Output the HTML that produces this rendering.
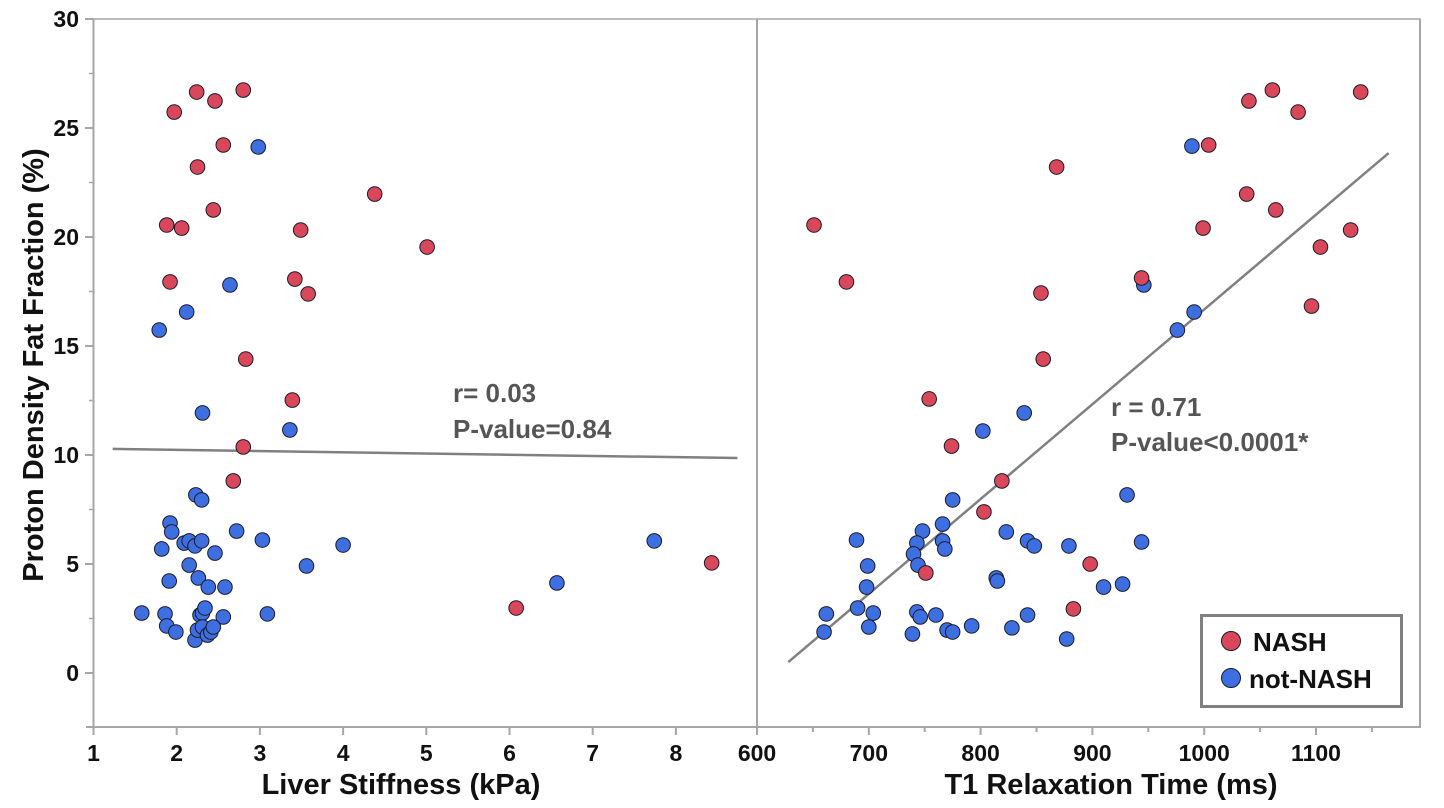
<!DOCTYPE html>
<html><head><meta charset="utf-8"><style>
html,body{margin:0;padding:0;background:#fff;}
svg{display:block;font-family:"Liberation Sans",sans-serif;}
</style></head><body>
<svg id="chart" width="1444" height="808"></svg>
<script>
// Left panel: Liver stiffness (kPa)
const leftNashX = [2.24,2.46,2.80,1.97,2.56,2.25,4.38,2.44,1.88,2.06,3.49,5.01,1.92,3.42,3.58,2.83,3.39,2.80,2.68,8.43,6.08];
const leftNashY = [26.65,26.24,26.74,25.73,24.22,23.21,21.97,21.24,20.55,20.41,20.32,19.54,17.94,18.07,17.39,14.40,12.52,10.37,8.81,5.05,2.98];
const leftNotX = [2.98,2.64,2.12,1.79,2.31,3.36,2.23,2.30,1.92,1.94,2.72,3.03,1.82,2.09,2.15,2.22,2.30,2.46,3.56,4.00,7.74,2.15,1.91,2.26,2.38,2.58,6.57,1.58,1.86,1.88,1.99,2.28,2.31,2.34,2.56,3.09,2.22,2.25,2.31,2.37,2.41,2.44];
const leftNotY = [24.13,17.80,16.56,15.73,11.93,11.15,8.17,7.94,6.88,6.47,6.51,6.10,5.69,5.96,6.06,5.83,6.06,5.50,4.91,5.87,6.06,4.95,4.22,4.36,3.94,3.94,4.13,2.75,2.71,2.16,1.88,2.66,2.75,2.98,2.57,2.71,1.51,1.97,2.11,1.74,1.88,2.11];
const leftFitX = [1.23,8.74];
const leftFitY = [10.28,9.86];
// Right panel: T1 relaxation time (ms)
const rightNashX = [1040,1061,1084,1140,1004,868,1038,1064,999,1131,1104,854,944,1096,856,651,680,754,774,819,803,751,898,883];
const rightNashY = [26.24,26.74,25.73,26.65,24.22,23.21,21.97,21.24,20.41,20.32,19.54,17.43,18.12,16.83,14.40,20.55,17.94,12.57,10.41,8.81,7.39,4.59,5.00,2.94];
const rightNotX = [989,946,991,976,839,802,931,775,689,748,766,743,766,768,740,744,699,698,662,660,690,704,700,743,746,760,739,770,775,792,823,842,848,879,944,814,815,910,927,842,828,877];
const rightNotY = [24.17,17.80,16.56,15.73,11.93,11.10,8.17,7.94,6.10,6.51,6.83,5.96,6.06,5.69,5.46,4.95,4.91,3.94,2.71,1.88,2.98,2.75,2.11,2.80,2.57,2.66,1.79,1.97,1.88,2.16,6.47,6.06,5.83,5.83,6.01,4.36,4.22,3.94,4.08,2.66,2.07,1.56];
const rightFitX = [628,1165];
const rightFitY = [0.5,23.85];
const yTicks = [0,5,10,15,20,25,30];
const leftXTicks = [1,2,3,4,5,6,7,8];
const rightXTicks = [600,700,800,900,1000,1100];

const NS="http://www.w3.org/2000/svg";
const svg=document.getElementById('chart');
function mk(tag,attrs,parent){const e=document.createElementNS(NS,tag);for(const k in attrs)e.setAttribute(k,attrs[k]);(parent||svg).appendChild(e);return e;}
const yS=v=>673-v*21.8;
const xL=v=>93.5+(v-1)*83.2;
const xR=v=>757+(v-600)*1.118;
const AX='#a6a6a6', BOT=727, TOP=19;

let e;
e=mk('line',{x1:93.5,y1:TOP,x2:93.5,y2:BOT,stroke:AX,'stroke-width':2});


e=mk('line',{x1:86,y1:BOT,x2:1421,y2:BOT,stroke:AX,'stroke-width':2});


e=mk('line',{x1:93.5,y1:TOP,x2:1421,y2:TOP,stroke:AX,'stroke-width':1.5});


e=mk('line',{x1:757,y1:TOP,x2:757,y2:BOT,stroke:AX,'stroke-width':2});


e=mk('line',{x1:1420,y1:TOP,x2:1420,y2:BOT,stroke:AX,'stroke-width':2});



yTicks.forEach(t=>{
  const y=yS(t);
  const l=mk('line',{x1:85,y1:y,x2:93.5,y2:y,stroke:AX,'stroke-width':2});
  
  
  if(t<30){const m=yS(t+2.5);
    const ml=mk('line',{x1:89,y1:m,x2:93.5,y2:m,stroke:AX,'stroke-width':1.5});
    
    }
  const tx=mk('text',{x:79,y:y+8,'text-anchor':'end','font-size':23,'font-weight':'bold',fill:'#111'});
  tx.textContent=t;
  
  
});
function xTicks(ticks,sc,minorStep){
  ticks.forEach(t=>{
    const x=sc(t);
    const l=mk('line',{x1:x,y1:BOT,x2:x,y2:735,stroke:AX,'stroke-width':2});
    
    
    const tx=mk('text',{x:x,y:761,'text-anchor':'middle','font-size':23,'font-weight':'bold',fill:'#111'});
    tx.textContent=t;
    
    
    if(minorStep){const m=sc(t+minorStep);
      const ml=mk('line',{x1:m,y1:BOT,x2:m,y2:732,stroke:AX,'stroke-width':2});
      
      }
  });
}
xTicks(leftXTicks,xL,0);
xTicks(rightXTicks,xR,50);

e=mk('line',{x1:xL(leftFitX[0]),y1:yS(leftFitY[0]),x2:xL(leftFitX[1]),y2:yS(leftFitY[1]),stroke:'#808080','stroke-width':2.5});


e=mk('line',{x1:xR(rightFitX[0]),y1:yS(rightFitY[0]),x2:xR(rightFitX[1]),y2:yS(rightFitY[1]),stroke:'#808080','stroke-width':2.5});



function pts(xs,ys,sc,color,name){
  xs.forEach((v,i)=>{
    const c=mk('circle',{cx:sc(v),cy:yS(ys[i]),r:7.3,fill:color,stroke:'#1a1a2a','stroke-width':1});
    
    
  });
}
const RED='#d9485a', BLUE='#3e6fe0';
pts(leftNotX,leftNotY,xL,BLUE,'point-not-nash');
pts(leftNashX,leftNashY,xL,RED,'point-nash');
pts(rightNotX,rightNotY,xR,BLUE,'point-not-nash');
pts(rightNashX,rightNashY,xR,RED,'point-nash');

function txt(s,attrs,name){const t=mk('text',attrs);t.textContent=s;
  
  return t;}
const ann={'font-size':26,'font-weight':'bold',fill:'#555'};
txt('r= 0.03',Object.assign({x:453,y:402},ann),'left-r-annotation');
txt('P-value=0.84',Object.assign({x:453,y:438},ann),'left-p-annotation');
txt('r = 0.71',Object.assign({x:1111,y:416},ann),'right-r-annotation');
txt('P-value<0.0001*',Object.assign({x:1111,y:451},ann),'right-p-annotation');

txt('Liver Stiffness (kPa)',{x:401,y:794,'text-anchor':'middle','font-size':29,'font-weight':'bold',fill:'#111'},'left-x-axis-title');
txt('T1 Relaxation Time (ms)',{x:1111,y:794,'text-anchor':'middle','font-size':29,'font-weight':'bold',fill:'#111'},'right-x-axis-title');
txt('Proton Density Fat Fraction (%)',{x:0,y:0,transform:'translate(43,365) rotate(-90)','text-anchor':'middle','font-size':29,'font-weight':'bold',fill:'#111'},'y-axis-title');

const lg=mk('g',{});


mk('rect',{x:1201.5,y:615.5,width:200,height:91,fill:'#fff',stroke:'#808080','stroke-width':3},lg);
const lr=mk('circle',{cx:1231,cy:641,r:9.5,fill:RED,stroke:'#1a1a2a','stroke-width':1},lg);


const lb=mk('circle',{cx:1231,cy:678,r:9.5,fill:BLUE,stroke:'#1a1a2a','stroke-width':1},lg);


const t1=mk('text',{x:1253,y:651,'font-size':26,'font-weight':'bold',fill:'#111'},lg);
t1.textContent='NASH';


const t2=mk('text',{x:1249,y:688,'font-size':26,'font-weight':'bold',fill:'#111'},lg);
t2.textContent='not-NASH';


</script>
</body></html>
